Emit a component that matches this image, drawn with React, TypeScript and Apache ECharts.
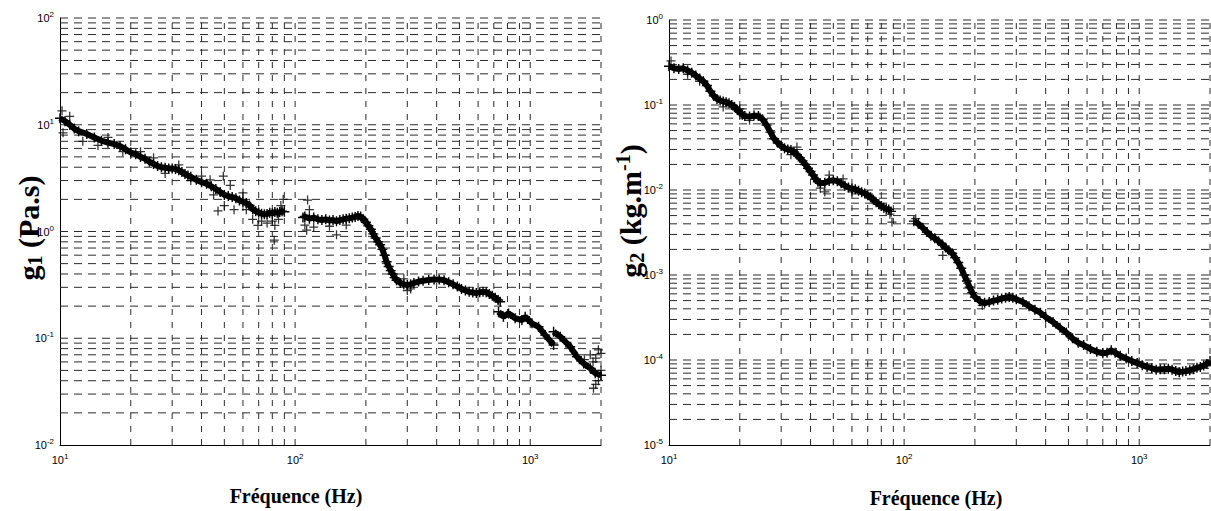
import React, { useEffect, useRef } from "react";
import * as echarts from "echarts";

// ---------- data ----------
const xTickVals = [20, 30, 40, 50, 60, 70, 80, 90, 100, 200, 300, 400, 500, 600, 700, 800, 900, 1000, 2000];
const leftYGrid = [0.02, 0.03, 0.04, 0.05, 0.06, 0.07, 0.08, 0.09, 0.1, 0.2, 0.3, 0.4, 0.5, 0.6, 0.7, 0.8, 0.9, 1, 2, 3, 4, 5, 6, 7, 8, 9, 10, 20, 30, 40, 50, 60, 70, 80, 90, 100];
const rightYGrid = [2e-5, 3e-5, 4e-5, 5e-5, 6e-5, 7e-5, 8e-5, 9e-5, 1e-4, 2e-4, 3e-4, 4e-4, 5e-4, 6e-4, 7e-4, 8e-4, 9e-4, 1e-3, 2e-3, 3e-3, 4e-3, 5e-3, 6e-3, 7e-3, 8e-3, 9e-3, 0.01, 0.02, 0.03, 0.04, 0.05, 0.06, 0.07, 0.08, 0.09, 0.1, 0.2, 0.3, 0.4, 0.5, 0.6, 0.7, 0.8, 0.9, 1];

// g1 (Pa.s) – left panel
const g1SegA: [number, number][] = [
  [10, 11.5], [10.5, 10.8], [11, 10.0], [11.5, 9.2], [12, 8.7], [13, 8.2], [14, 7.6], [15, 7.1], [16, 6.8], [17, 6.6],
  [18, 6.3], [19, 5.9], [20, 5.5], [21, 5.3], [22, 5.0], [23, 4.8], [24, 4.5], [25, 4.3], [26, 4.1], [27, 4.0],
  [28, 3.95], [29, 3.9], [30, 3.9], [31, 3.85], [32, 3.75], [33, 3.6], [34, 3.45], [35, 3.35], [36, 3.25], [38, 3.05],
  [40, 2.9], [42, 2.8], [44, 2.65], [46, 2.5], [48, 2.35], [50, 2.2], [52, 2.15], [54, 2.1], [56, 2.05], [58, 1.95],
  [60, 1.9], [62, 1.85], [64, 1.75], [66, 1.62], [68, 1.55], [70, 1.5], [72, 1.47], [74, 1.45], [76, 1.46], [78, 1.5],
  [80, 1.48], [82, 1.52], [84, 1.5], [86, 1.52], [88, 1.55], [90, 1.53],
];
const g1ScatterA: [number, number][] = [
  [10.2, 13.5], [10.3, 8.4], [11, 12], [12.5, 7.0], [14.5, 6.4], [16, 7.6], [18.5, 5.6], [22, 5.6], [25, 4.9], [28, 3.5],
  [32, 4.2], [36, 3.0], [40, 3.3], [43.5, 3.05], [45, 2.2], [47, 1.56], [49.5, 3.3], [50, 1.75], [53, 2.7], [55, 1.6],
  [60, 2.3], [62, 1.6], [66, 1.3], [69.5, 1.14], [72, 1.25], [76, 1.2], [80, 1.25], [82, 1.14], [81.5, 0.83], [85, 1.3],
  [89, 2.0], [87, 1.75],
];
const g1SegB: [number, number][] = [
  [108, 1.35], [110, 1.38], [115, 1.32], [120, 1.35], [125, 1.3], [130, 1.28], [135, 1.3], [140, 1.27], [145, 1.28], [150, 1.25],
  [155, 1.28], [160, 1.3], [165, 1.32], [170, 1.33], [175, 1.35], [180, 1.37], [185, 1.4], [190, 1.38], [195, 1.3], [200, 1.22],
  [205, 1.13], [210, 1.05], [215, 0.95], [220, 0.87], [225, 0.8], [230, 0.75], [235, 0.68], [240, 0.6], [245, 0.52], [250, 0.47],
  [255, 0.43], [260, 0.4], [265, 0.37], [270, 0.35], [280, 0.33], [290, 0.32], [300, 0.315], [310, 0.32], [320, 0.33], [335, 0.34],
  [350, 0.345], [370, 0.352], [390, 0.356], [410, 0.356], [430, 0.35], [450, 0.335], [470, 0.32], [490, 0.305], [510, 0.29], [530, 0.28],
  [550, 0.272], [570, 0.268], [590, 0.265], [610, 0.27], [630, 0.272], [650, 0.27], [670, 0.26], [690, 0.25], [710, 0.24], [730, 0.228],
  [745, 0.22],
];
const g1ScatterB: [number, number][] = [
  [113, 1.97], [112, 1.03], [110, 1.15], [115, 1.6], [120, 1.1], [150, 0.93], [140, 1.12], [165, 1.15], [300, 0.28], [310, 0.29], [290, 0.36],
];
const g1SegC: [number, number][] = [
  [733, 0.177], [769, 0.159], [809, 0.171], [863, 0.154], [922, 0.148], [952, 0.159], [1017, 0.138], [1085, 0.128], [1158, 0.107], [1257, 0.0865],
];
const g1SegD: [number, number][] = [
  [1257, 0.115], [1342, 0.1035], [1479, 0.0834], [1582, 0.067], [1688, 0.058], [1800, 0.0524], [1890, 0.047], [2000, 0.045],
];
const g1ScatterD: [number, number][] = [
  [1800, 0.07], [1900, 0.065], [1950, 0.078], [2000, 0.072], [1950, 0.04], [1900, 0.037], [2000, 0.05], [1850, 0.06], [1700, 0.063], [1858, 0.034],
];

// g2 (kg.m-1) – right panel
const g2SegA: [number, number][] = [
  [10, 0.285], [10.5, 0.27], [11, 0.265], [11.5, 0.27], [12, 0.255], [12.5, 0.24], [13, 0.222], [13.5, 0.205], [14, 0.19], [14.5, 0.17],
  [15, 0.145], [15.5, 0.128], [16, 0.118], [16.5, 0.113], [17, 0.11], [17.5, 0.108], [18, 0.105], [18.5, 0.1], [19, 0.095], [19.5, 0.088],
  [20, 0.082], [20.5, 0.077], [21, 0.074], [22, 0.073], [23, 0.075], [24, 0.074], [25, 0.068], [26, 0.058], [27, 0.048], [28, 0.04],
  [29, 0.036], [30, 0.033], [31, 0.031], [32, 0.03], [33, 0.0295], [34, 0.028], [35, 0.026], [36, 0.024], [37, 0.022], [38, 0.02],
  [39, 0.018], [40, 0.0165], [41, 0.015], [42, 0.0135], [43, 0.0125], [44, 0.012], [46, 0.0122], [48, 0.0128], [50, 0.013], [52, 0.0127],
  [54, 0.012], [56, 0.0112], [58, 0.0107], [60, 0.0104], [62, 0.0102], [64, 0.0098], [66, 0.0094], [68, 0.0091], [70, 0.0087], [72, 0.0082],
  [74, 0.0077], [76, 0.0072], [78, 0.0068], [80, 0.0065], [82, 0.0062], [84, 0.006], [86, 0.0059], [88, 0.0056],
];
const g2ScatterA: [number, number][] = [
  [10.2, 0.33], [12, 0.23], [13.5, 0.19], [17, 0.095], [20, 0.09], [22, 0.066], [33, 0.026], [35, 0.032], [44, 0.0105], [46, 0.0095],
  [48, 0.015], [88.8, 0.0042], [87, 0.0052], [60, 0.0095], [55, 0.0135],
];
const g2SegB: [number, number][] = [
  [110, 0.0043], [115, 0.004], [120, 0.0036], [125, 0.0032], [130, 0.0029], [135, 0.0027], [140, 0.0025], [145, 0.0023], [150, 0.0021], [155, 0.00195],
  [160, 0.0018], [165, 0.0016], [170, 0.0014], [175, 0.0012], [180, 0.001], [185, 0.00085], [190, 0.00072], [195, 0.00062], [200, 0.00055], [210, 0.00049],
  [220, 0.00047], [230, 0.00048], [240, 0.0005], [250, 0.00051], [260, 0.00053], [270, 0.00054], [280, 0.00055], [290, 0.00054], [300, 0.00052], [320, 0.00048],
  [340, 0.00043], [360, 0.00039], [380, 0.00036], [400, 0.00032], [430, 0.00028], [460, 0.00024], [490, 0.00021], [520, 0.00018], [550, 0.00016], [580, 0.00015],
  [620, 0.000135], [660, 0.000125], [700, 0.00012], [730, 0.000122], [760, 0.00013], [790, 0.000122], [830, 0.000112], [880, 0.000104], [930, 0.000097], [980, 0.000092],
  [1030, 0.000087], [1080, 0.000083], [1130, 0.00008], [1180, 0.000077], [1230, 0.000078], [1280, 0.000078], [1330, 0.000079], [1380, 0.000077], [1430, 0.000074], [1480, 0.000072],
  [1530, 0.000073], [1580, 0.000074], [1640, 0.000076], [1700, 0.000078], [1760, 0.000081], [1820, 0.000083], [1880, 0.000086], [1940, 0.00009], [2000, 0.000097],
];
const g2ScatterB: [number, number][] = [[112, 0.0046], [146, 0.0017], [215, 0.00044], [1000, 0.000095]];

// ---------- helpers ----------
const PLUS = "path://M3,0h1v3h3v1h-3v3h-1v-3h-3v-1h3z";
const GRID_COLOR = "#2a2a2a";

function tickFmt(v: number) {
  const e = Math.round(Math.log10(v));
  if (Math.abs(v - Math.pow(10, e)) > 1e-6 * v) return "";
  return "10{s|" + e + "}";
}

const tickRich = {
  s: { fontSize: 8, fontFamily: "Liberation Sans", color: "#000", verticalAlign: "top", lineHeight: 11 },
};

function makeXAxis(gi: number) {
  return {
    type: "log", logBase: 10, gridIndex: gi, min: 10, max: 2000,
    axisLine: { show: true, lineStyle: { color: "#000", width: 1 } },
    axisTick: { show: false },
    splitLine: { show: false },
    minorTick: { show: false },
    axisLabel: {
      formatter: tickFmt, fontSize: 11, fontFamily: "Liberation Sans", color: "#000", margin: 7,
      lineHeight: 15, rich: tickRich, showMaxLabel: false,
    },
  };
}
function makeYAxis(gi: number, min: number, max: number) {
  return {
    type: "log", logBase: 10, gridIndex: gi, min, max,
    axisLine: { show: true, lineStyle: { color: "#000", width: 1 } },
    axisTick: { show: false },
    splitLine: { show: false },
    axisLabel: {
      formatter: tickFmt, fontSize: 11, fontFamily: "Liberation Sans", color: "#000", margin: 6,
      lineHeight: 15, rich: tickRich,
    },
  };
}

function gridLines(gi: number, yVals: number[], yMin: number, yMax: number) {
  const vertical = {
    type: "custom", xAxisIndex: gi, yAxisIndex: gi, silent: true, z: 1, clip: false,
    data: xTickVals.map((v) => [v, yMin]),
    renderItem: (_p: any, api: any) => {
      const v = api.value(0);
      const a = api.coord([v, yMin]);
      const b = api.coord([v, yMax]);
      return { type: "line", shape: { x1: a[0], y1: a[1], x2: b[0], y2: b[1] }, style: { stroke: GRID_COLOR, lineWidth: 1, lineDash: [6, 7] } };
    },
  };
  const horizontal = {
    type: "custom", xAxisIndex: gi, yAxisIndex: gi, silent: true, z: 1, clip: false,
    data: yVals.map((v) => [10, v]),
    renderItem: (_p: any, api: any) => {
      const v = api.value(1);
      const a = api.coord([10, v]);
      const b = api.coord([2000, v]);
      return { type: "line", shape: { x1: a[0], y1: a[1], x2: b[0], y2: b[1] }, style: { stroke: GRID_COLOR, lineWidth: 1, lineDash: [8, 6] } };
    },
  };
  return [vertical, horizontal];
}

function trend(data: [number, number][], gi: number) {
  return {
    type: "line", xAxisIndex: gi, yAxisIndex: gi, data, silent: true, z: 5,
    symbol: PLUS, symbolSize: 10, showSymbol: true, showAllSymbol: true,
    lineStyle: { color: "#000", width: 6 }, itemStyle: { color: "#000" },
  };
}
function scat(data: [number, number][], gi: number) {
  return {
    type: "scatter", xAxisIndex: gi, yAxisIndex: gi, data, silent: true, z: 5,
    symbol: PLUS, symbolSize: 9, itemStyle: { color: "#000" },
  };
}

const titleRich = {
  b: { fontFamily: "Liberation Serif", fontWeight: "bold", fontSize: 30, fill: "#000", lineHeight: 34 },
  sub: { fontFamily: "Liberation Serif", fontWeight: "bold", fontSize: 20, fill: "#000", lineHeight: 18, verticalAlign: "bottom" },
  sup: { fontFamily: "Liberation Serif", fontWeight: "bold", fontSize: 20, fill: "#000", lineHeight: 18, verticalAlign: "top" },
};

export default function App() {
  const ref = useRef<HTMLDivElement>(null);
  useEffect(() => {
    if (!ref.current) return;
    const chart = echarts.init(ref.current, null, { renderer: "svg" });
    const option: any = {
      animation: false,
      backgroundColor: "#fff",
      grid: [
        { left: 60, top: 18, width: 541, height: 427 },
        { left: 669, top: 20, width: 541, height: 425 },
      ],
      xAxis: [makeXAxis(0), makeXAxis(1)],
      yAxis: [makeYAxis(0, 0.01, 100), makeYAxis(1, 1e-5, 1)],
      series: [
        ...gridLines(0, leftYGrid, 0.01, 100),
        ...gridLines(1, rightYGrid, 1e-5, 1),
        trend(g1SegA, 0), scat(g1ScatterA, 0),
        trend(g1SegB, 0), scat(g1ScatterB, 0),
        trend(g1SegC, 0), trend(g1SegD, 0), scat(g1ScatterD, 0),
        trend(g2SegA, 1), scat(g2ScatterA, 1),
        trend(g2SegB, 1), scat(g2ScatterB, 1),
      ],
      graphic: [
        {
          type: "text", x: 28, y: 228, rotation: Math.PI / 2, silent: true,
          style: { text: "{b|g}{sub|1}{b| (Pa.s)}", rich: titleRich, align: "center", verticalAlign: "middle" },
        },
        {
          type: "text", x: 630, y: 211, rotation: Math.PI / 2, silent: true,
          style: { text: "{b|g}{sub|2}{b| (kg.m}{sup|-1}{b|)}", rich: titleRich, align: "center", verticalAlign: "middle" },
        },
        {
          type: "text", x: 296, y: 496, silent: true,
          style: { text: "Fréquence (Hz)", font: 'bold 20px "Liberation Serif"', fill: "#000", align: "center", verticalAlign: "middle" },
        },
        {
          type: "text", x: 936, y: 498, silent: true,
          style: { text: "Fréquence (Hz)", font: 'bold 20px "Liberation Serif"', fill: "#000", align: "center", verticalAlign: "middle" },
        },
      ],
    };
    chart.setOption(option);
    return () => chart.dispose();
  }, []);
  return (
    <div
      ref={ref}
      style={{ position: "absolute", left: 0, top: 0, width: 1211, height: 511, background: "#fff" }}
    />
  );
}
